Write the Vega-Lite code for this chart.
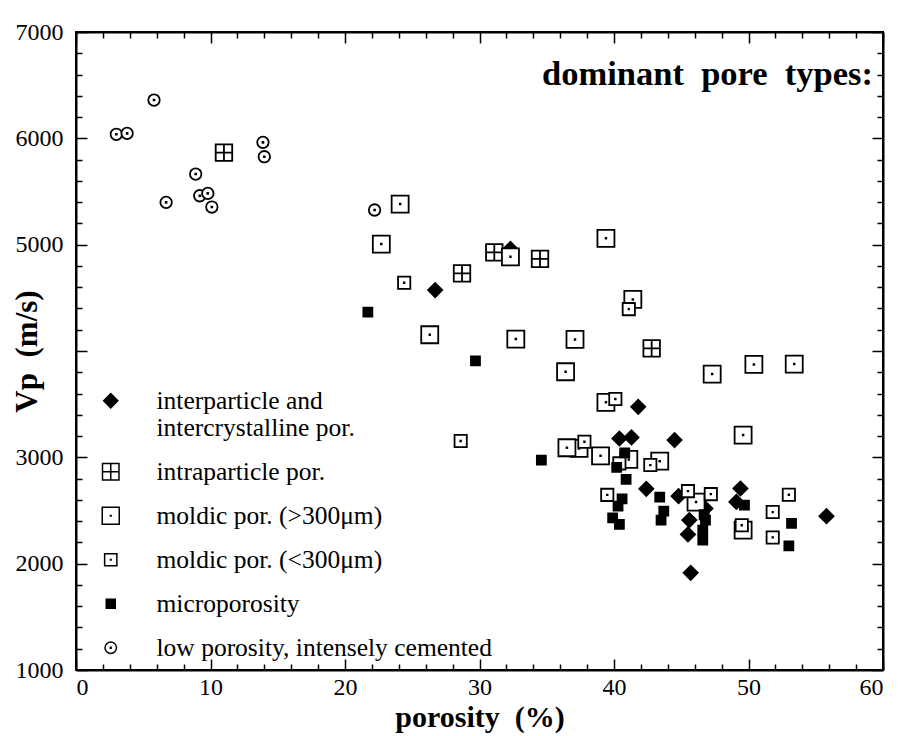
{
  "$schema": "https://vega.github.io/schema/vega-lite/v6.json",
  "width": 807,
  "height": 638,
  "autosize": {"type": "none"},
  "padding": {"left": 76, "top": 32, "right": 16, "bottom": 66},
  "background": "white",
  "title": {
    "text": "dominant\u00a0\u00a0pore\u00a0\u00a0types:",
    "anchor": "end",
    "frame": "group",
    "orient": "top",
    "offset": -99,
    "baseline": "alphabetic",
    "font": "Liberation Serif",
    "fontSize": 34.5,
    "fontWeight": "bold",
    "color": "black",
    "dx": -10
  },
  "data": {
    "values": [
      {"porosity": 5.8, "vp": 6360, "type": "low porosity, intensely cemented"},
      {"porosity": 3.0, "vp": 6038, "type": "low porosity, intensely cemented"},
      {"porosity": 3.8, "vp": 6047, "type": "low porosity, intensely cemented"},
      {"porosity": 6.7, "vp": 5398, "type": "low porosity, intensely cemented"},
      {"porosity": 8.9, "vp": 5664, "type": "low porosity, intensely cemented"},
      {"porosity": 9.2, "vp": 5460, "type": "low porosity, intensely cemented"},
      {"porosity": 9.8, "vp": 5482, "type": "low porosity, intensely cemented"},
      {"porosity": 10.1, "vp": 5354, "type": "low porosity, intensely cemented"},
      {"porosity": 13.9, "vp": 5962, "type": "low porosity, intensely cemented"},
      {"porosity": 14.0, "vp": 5827, "type": "low porosity, intensely cemented"},
      {"porosity": 22.2, "vp": 5326, "type": "low porosity, intensely cemented"},
      {"porosity": 11.0, "vp": 5865, "type": "intraparticle por."},
      {"porosity": 28.7, "vp": 4730, "type": "intraparticle por."},
      {"porosity": 31.1, "vp": 4928, "type": "intraparticle por."},
      {"porosity": 34.5, "vp": 4867, "type": "intraparticle por."},
      {"porosity": 42.8, "vp": 4025, "type": "intraparticle por."},
      {"porosity": 26.7, "vp": 4573, "type": "interparticle and|intercrystalline por."},
      {"porosity": 32.3, "vp": 4960, "type": "interparticle and|intercrystalline por."},
      {"porosity": 41.8, "vp": 3475, "type": "interparticle and|intercrystalline por."},
      {"porosity": 40.4, "vp": 3177, "type": "interparticle and|intercrystalline por."},
      {"porosity": 41.3, "vp": 3187, "type": "interparticle and|intercrystalline por."},
      {"porosity": 44.5, "vp": 3162, "type": "interparticle and|intercrystalline por."},
      {"porosity": 42.4, "vp": 2704, "type": "interparticle and|intercrystalline por."},
      {"porosity": 44.8, "vp": 2635, "type": "interparticle and|intercrystalline por."},
      {"porosity": 46.8, "vp": 2519, "type": "interparticle and|intercrystalline por."},
      {"porosity": 45.6, "vp": 2410, "type": "interparticle and|intercrystalline por."},
      {"porosity": 45.5, "vp": 2275, "type": "interparticle and|intercrystalline por."},
      {"porosity": 45.7, "vp": 1914, "type": "interparticle and|intercrystalline por."},
      {"porosity": 49.4, "vp": 2707, "type": "interparticle and|intercrystalline por."},
      {"porosity": 49.1, "vp": 2581, "type": "interparticle and|intercrystalline por."},
      {"porosity": 55.8, "vp": 2447, "type": "interparticle and|intercrystalline por."},
      {"porosity": 24.1, "vp": 5382, "type": "moldic por. (>300μm)"},
      {"porosity": 22.7, "vp": 5006, "type": "moldic por. (>300μm)"},
      {"porosity": 26.3, "vp": 4153, "type": "moldic por. (>300μm)"},
      {"porosity": 32.3, "vp": 4886, "type": "moldic por. (>300μm)"},
      {"porosity": 32.7, "vp": 4112, "type": "moldic por. (>300μm)"},
      {"porosity": 37.1, "vp": 4109, "type": "moldic por. (>300μm)"},
      {"porosity": 36.4, "vp": 3805, "type": "moldic por. (>300μm)"},
      {"porosity": 39.4, "vp": 5060, "type": "moldic por. (>300μm)"},
      {"porosity": 41.4, "vp": 4485, "type": "moldic por. (>300μm)"},
      {"porosity": 47.3, "vp": 3783, "type": "moldic por. (>300μm)"},
      {"porosity": 50.4, "vp": 3874, "type": "moldic por. (>300μm)"},
      {"porosity": 53.4, "vp": 3877, "type": "moldic por. (>300μm)"},
      {"porosity": 39.4, "vp": 3517, "type": "moldic por. (>300μm)"},
      {"porosity": 37.4, "vp": 3084, "type": "moldic por. (>300μm)"},
      {"porosity": 36.5, "vp": 3090, "type": "moldic por. (>300μm)"},
      {"porosity": 39.0, "vp": 3014, "type": "moldic por. (>300μm)"},
      {"porosity": 41.1, "vp": 2980, "type": "moldic por. (>300μm)"},
      {"porosity": 43.4, "vp": 2964, "type": "moldic por. (>300μm)"},
      {"porosity": 46.1, "vp": 2579, "type": "moldic por. (>300μm)"},
      {"porosity": 49.6, "vp": 3209, "type": "moldic por. (>300μm)"},
      {"porosity": 49.6, "vp": 2315, "type": "moldic por. (>300μm)"},
      {"porosity": 24.4, "vp": 4642, "type": "moldic por. (<300μm)"},
      {"porosity": 28.6, "vp": 3153, "type": "moldic por. (<300μm)"},
      {"porosity": 37.8, "vp": 3146, "type": "moldic por. (<300μm)"},
      {"porosity": 41.1, "vp": 4394, "type": "moldic por. (<300μm)"},
      {"porosity": 40.1, "vp": 3548, "type": "moldic por. (<300μm)"},
      {"porosity": 40.4, "vp": 2943, "type": "moldic por. (<300μm)"},
      {"porosity": 39.5, "vp": 2647, "type": "moldic por. (<300μm)"},
      {"porosity": 42.7, "vp": 2927, "type": "moldic por. (<300μm)"},
      {"porosity": 45.5, "vp": 2682, "type": "moldic por. (<300μm)"},
      {"porosity": 47.2, "vp": 2654, "type": "moldic por. (<300μm)"},
      {"porosity": 49.5, "vp": 2362, "type": "moldic por. (<300μm)"},
      {"porosity": 53.0, "vp": 2648, "type": "moldic por. (<300μm)"},
      {"porosity": 51.8, "vp": 2485, "type": "moldic por. (<300μm)"},
      {"porosity": 51.8, "vp": 2247, "type": "moldic por. (<300μm)"},
      {"porosity": 21.7, "vp": 4366, "type": "microporosity"},
      {"porosity": 29.7, "vp": 3908, "type": "microporosity"},
      {"porosity": 34.6, "vp": 2974, "type": "microporosity"},
      {"porosity": 40.8, "vp": 3042, "type": "microporosity"},
      {"porosity": 40.2, "vp": 2905, "type": "microporosity"},
      {"porosity": 40.9, "vp": 2792, "type": "microporosity"},
      {"porosity": 40.6, "vp": 2610, "type": "microporosity"},
      {"porosity": 40.3, "vp": 2541, "type": "microporosity"},
      {"porosity": 39.9, "vp": 2431, "type": "microporosity"},
      {"porosity": 40.4, "vp": 2369, "type": "microporosity"},
      {"porosity": 43.4, "vp": 2626, "type": "microporosity"},
      {"porosity": 43.7, "vp": 2494, "type": "microporosity"},
      {"porosity": 43.5, "vp": 2409, "type": "microporosity"},
      {"porosity": 46.8, "vp": 2410, "type": "microporosity"},
      {"porosity": 46.7, "vp": 2460, "type": "microporosity"},
      {"porosity": 46.6, "vp": 2315, "type": "microporosity"},
      {"porosity": 46.6, "vp": 2221, "type": "microporosity"},
      {"porosity": 49.7, "vp": 2550, "type": "microporosity"},
      {"porosity": 53.2, "vp": 2378, "type": "microporosity"},
      {"porosity": 53.0, "vp": 2168, "type": "microporosity"}
    ]
  },
  "layer": [
    {
      "mark": {"type": "point", "stroke": "black", "strokeWidth": 1.8, "opacity": 1, "fillOpacity": 1, "strokeOpacity": 1},
      "encoding": {
        "x": {
          "field": "porosity", "type": "quantitative",
          "scale": {"domain": [0, 60], "nice": false, "zero": false},
          "axis": {
            "orient": "bottom",
            "title": "porosity\u00a0\u00a0(%)",
            "values": [0,2,4,6,8,10,12,14,16,18,20,22,24,26,28,30,32,34,36,38,40,42,44,46,48,50,52,54,56,58,60],
            "labelExpr": "datum.value % 10 === 0 ? datum.label : ''",
            "tickSize": {"condition": {"test": "datum.value % 10 === 0", "value": -11}, "value": -6},
            "labelPadding": 16,
            "titlePadding": 3,
            "titleFontSize": 30
          }
        },
        "y": {
          "field": "vp", "type": "quantitative",
          "scale": {"domain": [1000, 7000], "nice": false, "zero": false},
          "axis": {
            "orient": "left",
            "title": "Vp\u00a0\u00a0(m/s)",
            "format": "d",
            "values": [1000,1200,1400,1600,1800,2000,2200,2400,2600,2800,3000,3200,3400,3600,3800,4000,4200,4400,4600,4800,5000,5200,5400,5600,5800,6000,6200,6400,6600,6800,7000],
            "labelExpr": "datum.value % 1000 === 0 && datum.value != 4000 ? datum.label : ''",
            "tickSize": {"condition": {"test": "datum.value % 1000 === 0", "value": -11}, "value": -6},
            "labelPadding": 24,
            "titlePadding": -28
          }
        },
        "shape": {
          "field": "type", "type": "nominal",
          "scale": {
            "domain": ["interparticle and|intercrystalline por.", "intraparticle por.", "moldic por. (>300μm)", "moldic por. (<300μm)", "microporosity", "low porosity, intensely cemented"],
            "range": ["diamond", "M-1,-1H1V1H-1Z M0,-1V1 M-1,0H1", "M-1,-1H1V1H-1Z M-0.04,-0.04H0.04V0.04H-0.04Z", "M-1,-1H1V1H-1Z M-0.05,-0.05H0.05V0.05H-0.05Z", "square", "M1,0A1,1,0,1,1,-1,0A1,1,0,1,1,1,0Z M-0.07,-0.07H0.07V0.07H-0.07Z"]
          },
          "legend": {
            "title": null,
            "orient": "none",
            "legendX": 22,
            "legendY": 356,
            "labelExpr": "split(datum.label, '|')",
            "labelFont": "Liberation Serif",
            "labelFontSize": 25.5,
            "labelColor": "black",
            "labelLimit": 600,
            "labelOffset": 33,
            "rowPadding": 17,
            "padding": 0,
            "encode": {"symbols": {"update": {"stroke": {"value": "black"}, "strokeWidth": {"value": 1.6}, "opacity": {"value": 1}}}}
          }
        },
        "fill": {
          "field": "type", "type": "nominal",
          "scale": {
            "domain": ["interparticle and|intercrystalline por.", "intraparticle por.", "moldic por. (>300μm)", "moldic por. (<300μm)", "microporosity", "low porosity, intensely cemented"],
            "range": ["black", "white", "white", "white", "black", "white"]
          },
          "legend": {
            "title": null,
            "orient": "none",
            "legendX": 22,
            "legendY": 356,
            "labelExpr": "split(datum.label, '|')",
            "labelFont": "Liberation Serif",
            "labelFontSize": 25.5,
            "labelColor": "black",
            "labelLimit": 600,
            "labelOffset": 33,
            "rowPadding": 17,
            "padding": 0,
            "encode": {"symbols": {"update": {"stroke": {"value": "black"}, "strokeWidth": {"value": 1.6}, "opacity": {"value": 1}}}}
          }
        },
        "size": {
          "field": "type", "type": "nominal",
          "scale": {
            "type": "ordinal",
            "domain": ["interparticle and|intercrystalline por.", "intraparticle por.", "moldic por. (>300μm)", "moldic por. (<300μm)", "microporosity", "low porosity, intensely cemented"],
            "range": [200, 272, 289, 150, 81, 132]
          },
          "legend": {
            "title": null,
            "orient": "none",
            "legendX": 22,
            "legendY": 356,
            "labelExpr": "split(datum.label, '|')",
            "labelFont": "Liberation Serif",
            "labelFontSize": 25.5,
            "labelColor": "black",
            "labelLimit": 600,
            "labelOffset": 33,
            "rowPadding": 17,
            "padding": 0,
            "encode": {"symbols": {"update": {"stroke": {"value": "black"}, "strokeWidth": {"value": 1.6}, "opacity": {"value": 1}}}}
          }
        }
      }
    },
    {
      "mark": {"type": "point", "opacity": 0},
      "encoding": {
        "x": {
          "field": "porosity", "type": "quantitative",
          "axis": {
            "orient": "top",
            "title": null,
            "labels": false,
            "values": [0,2,4,6,8,10,12,14,16,18,20,22,24,26,28,30,32,34,36,38,40,42,44,46,48,50,52,54,56,58,60],
            "tickSize": {"condition": {"test": "datum.value % 10 === 0", "value": -11}, "value": -6}
          }
        },
        "y": {
          "field": "vp", "type": "quantitative",
          "axis": {
            "orient": "right",
            "title": null,
            "labels": false,
            "values": [1000,1200,1400,1600,1800,2000,2200,2400,2600,2800,3000,3200,3400,3600,3800,4000,4200,4400,4600,4800,5000,5200,5400,5600,5800,6000,6200,6400,6600,6800,7000],
            "tickSize": {"condition": {"test": "datum.value % 1000 === 0", "value": -11}, "value": -6}
          }
        }
      }
    }
  ],
  "resolve": {"axis": {"x": "independent", "y": "independent"}},
  "config": {
    "view": {"stroke": "black", "strokeWidth": 2},
    "font": "Liberation Serif",
    "axis": {
      "grid": false,
      "domainColor": "black",
      "domainWidth": 2,
      "tickColor": "black",
      "tickWidth": 1.5,
      "labelColor": "black",
      "labelFont": "Liberation Serif",
      "labelFontSize": 24,
      "titleFont": "Liberation Serif",
      "titleFontSize": 31,
      "titleFontWeight": "bold",
      "titleColor": "black"
    }
  }
}
